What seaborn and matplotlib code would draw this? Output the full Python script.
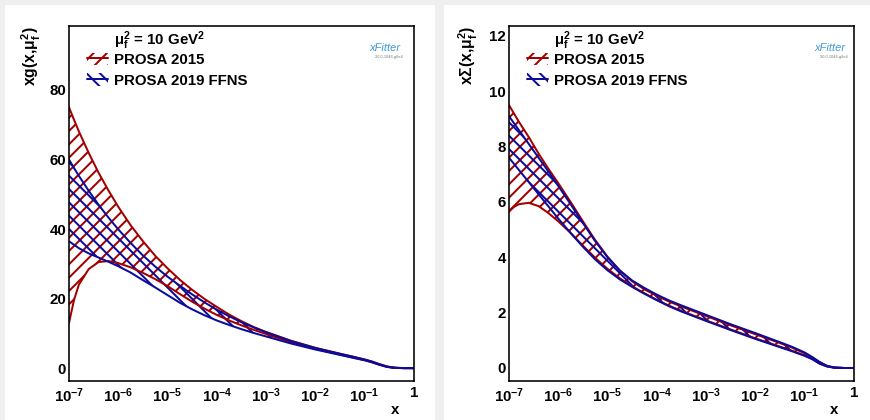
import numpy as np
import pandas as pd
import matplotlib
matplotlib.use("Agg")
import matplotlib.pyplot as plt
import seaborn as sns
from matplotlib.patches import Patch, Rectangle
from matplotlib.lines import Line2D
from matplotlib.legend_handler import HandlerTuple, HandlerLine2D
from matplotlib.ticker import LogLocator, MultipleLocator, FuncFormatter, NullFormatter

# ---------------------------------------------------------------- data
# PDF uncertainty bands at mu_f^2 = 10 GeV^2, sampled on a log10(x) grid
log10_x = [-7.0, -6.9, -6.8, -6.6, -6.4, -6.2, -6.0, -5.75, -5.5, -5.25,
           -5.0, -4.75, -4.5, -4.25, -4.0, -3.75, -3.5, -3.25, -3.0,
           -2.5, -2.0, -1.5, -1.25, -1.0, -0.85, -0.7, -0.55, -0.4, -0.2, 0.0]

# gluon xg(x, mu_f^2)
gluon_2015_hi = [75.0, 71.5, 68.1, 61.9, 56.2, 51.1, 46.4, 41.1, 36.5, 32.3,
                 28.7, 25.4, 22.5, 19.9, 17.6, 15.4, 13.5, 11.8, 10.4,
                 7.9, 5.85, 4.15, 3.35, 2.5, 1.9, 1.15, 0.5, 0.14, 0.01, 0.0]
gluon_2015_lo = [13.0, 19.5, 24.0, 28.5, 30.5, 30.8, 30.2, 29.0, 27.4, 25.6,
                 23.6, 21.3, 19.1, 17.1, 15.3, 13.7, 12.3, 11.0, 9.8,
                 7.45, 5.55, 3.9, 3.1, 2.3, 1.7, 1.0, 0.38, 0.08, 0.0, 0.0]
gluon_2019_hi = [60.0, 57.6, 55.3, 51.0, 47.0, 43.3, 39.9, 36.0, 32.4, 29.2,
                 26.3, 23.7, 21.2, 18.9, 16.8, 14.9, 13.2, 11.7, 10.3,
                 7.8, 5.75, 4.1, 3.3, 2.45, 1.85, 1.1, 0.45, 0.12, 0.01, 0.0]
gluon_2019_lo = [36.5, 35.5, 34.5, 33.0, 31.8, 30.6, 29.3, 27.5, 25.3, 23.2,
                 21.0, 18.8, 16.9, 15.2, 13.7, 12.4, 11.2, 10.1, 9.1,
                 7.1, 5.35, 3.8, 3.0, 2.25, 1.65, 0.95, 0.35, 0.07, 0.0, 0.0]

# singlet x Sigma(x, mu_f^2)
sigma_2015_hi = [9.5, 9.2, 8.9, 8.35, 7.75, 7.2, 6.68, 6.0, 5.3, 4.62,
                 4.02, 3.52, 3.13, 2.84, 2.61, 2.4, 2.22, 2.05, 1.88,
                 1.54, 1.22, 0.9, 0.73, 0.53, 0.38, 0.21, 0.075, 0.016, 0.0, 0.0]
sigma_2015_lo = [5.65, 5.82, 5.92, 5.97, 5.85, 5.6, 5.3, 4.88, 4.42, 3.98,
                 3.58, 3.24, 2.95, 2.7, 2.46, 2.25, 2.06, 1.89, 1.72,
                 1.39, 1.07, 0.77, 0.62, 0.45, 0.33, 0.16, 0.055, 0.011, 0.0, 0.0]
sigma_2019_hi = [9.1, 8.85, 8.6, 8.1, 7.6, 7.1, 6.58, 5.92, 5.24, 4.58,
                 4.0, 3.52, 3.16, 2.89, 2.65, 2.44, 2.26, 2.09, 1.92,
                 1.58, 1.26, 0.93, 0.76, 0.56, 0.4, 0.22, 0.08, 0.018, 0.0, 0.0]
sigma_2019_lo = [7.6, 7.38, 7.16, 6.72, 6.28, 5.84, 5.4, 4.88, 4.38, 3.92,
                 3.53, 3.2, 2.93, 2.68, 2.45, 2.23, 2.04, 1.87, 1.7,
                 1.37, 1.05, 0.75, 0.6, 0.44, 0.32, 0.16, 0.06, 0.012, 0.0, 0.0]

series_labels = ["PROSA 2015", "PROSA 2019 FFNS"]
scale_label = r"$μ_{f}^{2}$ = 10 GeV$^{2}$"
panel_ylabels = [r"xg(x,$μ_{f}^{2}$)", r"xΣ(x,$μ_{f}^{2}$)"]
x_ticks = [1e-7, 1e-6, 1e-5, 1e-4, 1e-3, 1e-2, 1e-1, 1.0]

RED = "#a30000"
BLUE = "#0b0b9c"

# ---------------------------------------------------------------- style
sns.set_theme(style="white")
DPI = 80
PX = 72.0 / DPI  # points per pixel
plt.rcParams.update({
    "font.family": ["Liberation Sans", "DejaVu Sans"],
    "font.weight": "bold",
    "axes.labelweight": "bold",
    "mathtext.default": "regular",
    "hatch.linewidth": 2.0 * PX,
    "axes.edgecolor": "black",
    "axes.linewidth": 1.6 * PX,
    "xtick.direction": "in",
    "ytick.direction": "in",
    "xtick.color": "black",
    "ytick.color": "black",
    "text.color": "black",
    "axes.labelcolor": "black",
})

df = pd.DataFrame({
    "x": np.power(10.0, log10_x),
    "g15_hi": gluon_2015_hi, "g15_lo": gluon_2015_lo,
    "g19_hi": gluon_2019_hi, "g19_lo": gluon_2019_lo,
    "s15_hi": sigma_2015_hi, "s15_lo": sigma_2015_lo,
    "s19_hi": sigma_2019_hi, "s19_lo": sigma_2019_lo,
})

fig = plt.figure(figsize=(870 / DPI, 420 / DPI), dpi=DPI)
fig.patch.set_facecolor("#efefef")
# white canvases behind each panel
fig.add_artist(Rectangle((5 / 870, 0), 430 / 870, 415 / 420,
                         transform=fig.transFigure, facecolor="white",
                         edgecolor="none", zorder=-10))
fig.add_artist(Rectangle((444 / 870, 0), 426 / 870, 415 / 420,
                         transform=fig.transFigure, facecolor="white",
                         edgecolor="none", zorder=-10))

ax_w = 345 / 870
ax_h = 355 / 420
ax_b = 39 / 420
axes = [fig.add_axes([69 / 870, ax_b, ax_w, ax_h]),
        fig.add_axes([509 / 870, ax_b, ax_w, ax_h])]

panels = [
    (("g15_lo", "g15_hi"), ("g19_lo", "g19_hi"), (-3.7, 98.4), 20, 5),
    (("s15_lo", "s15_hi"), ("s19_lo", "s19_hi"), (-0.47, 12.36), 2, 0.5),
]
logo_x = [0.916, 0.930]
ylabel_x = [-0.074, -0.083]
xlabel_x = [0.957, 0.954]

HATCH_15 = "//"
HATCH_19 = "\\\\"


def draw_band(ax, lo, hi, color, hatch):
    ax.fill_between(df["x"], df[lo], df[hi], facecolor="none",
                    edgecolor=color, hatch=hatch, linewidth=0)
    for col in (lo, hi):
        sns.lineplot(data=df, x="x", y=col, ax=ax, color=color,
                     linewidth=2.0 * PX, legend=False)


def log_label(v, pos):
    if np.isclose(v, 1.0):
        return "1"
    return r"$10^{%d}$" % int(round(np.log10(v)))


for i, ax in enumerate(axes):
    band15, band19, ylim, major, minor = panels[i]
    ax.set_facecolor("white")
    draw_band(ax, band15[0], band15[1], RED, HATCH_15)
    draw_band(ax, band19[0], band19[1], BLUE, HATCH_19)

    ax.set_xscale("log")
    ax.set_xlim(1e-7, 1.0)
    ax.set_ylim(*ylim)
    ax.xaxis.set_major_locator(LogLocator(base=10, numticks=20))
    ax.xaxis.set_minor_locator(LogLocator(base=10, subs=np.arange(2, 10),
                                          numticks=20))
    ax.xaxis.set_major_formatter(FuncFormatter(log_label))
    ax.xaxis.set_minor_formatter(NullFormatter())
    ax.set_xticks(x_ticks)
    ax.yaxis.set_major_locator(MultipleLocator(major))
    ax.yaxis.set_minor_locator(MultipleLocator(minor))

    ax.tick_params(axis="both", which="major", length=10 * PX,
                   width=1.2 * PX, labelsize=13.5, top=False, right=False)
    ax.tick_params(axis="both", which="minor", length=5 * PX,
                   width=1.2 * PX, top=False, right=False)
    ax.tick_params(axis="x", which="major", pad=5 * PX)
    ax.tick_params(axis="y", which="major", pad=3 * PX)
    for s in ax.spines.values():
        s.set_visible(True)
        s.set_color("black")

    ax.set_xlabel("x", fontsize=13.5, loc="right")
    ax.xaxis.set_label_coords(xlabel_x[i], -0.062)
    ax.set_ylabel(panel_ylabels[i], fontsize=14.2, loc="top")
    ax.yaxis.set_label_coords(ylabel_x[i], 1.0)

    # scale header, then the two band entries
    ax.text(45 / 345, 1 - 19.5 / 355, scale_label, transform=ax.transAxes,
            ha="left", va="baseline", fontsize=13.5)
    handles = [
        (Patch(facecolor="none", edgecolor=RED, hatch=HATCH_15, linewidth=0),
         Line2D([], [], color=RED, linewidth=2.0 * PX)),
        (Patch(facecolor="none", edgecolor=BLUE, hatch=HATCH_19, linewidth=0),
         Line2D([], [], color=BLUE, linewidth=2.0 * PX)),
    ]
    ax.legend(handles, series_labels,
              handler_map={tuple: HandlerTuple(ndivide=1, pad=0),
                           Line2D: HandlerLine2D(marker_pad=0)},
              loc="upper left", bbox_to_anchor=(18 / 345, 1 - 26.5 / 355),
              borderaxespad=0, borderpad=0, frameon=False, fontsize=13.5,
              handlelength=1.4, handleheight=0.9, handletextpad=0.4,
              labelspacing=0.42)

    ax.text(logo_x[i], 0.938, "xFitter", transform=ax.transAxes,
            ha="center", va="center", color="#3d9ad6", fontsize=10,
            fontstyle="italic", fontweight="normal")
    ax.text(logo_x[i] + 0.012, 0.912, "2.0.0-1046-g6e4", transform=ax.transAxes,
            ha="center", va="center", color="#777777", fontsize=3.5,
            fontweight="normal")

fig.savefig("out.png", dpi=DPI, facecolor=fig.get_facecolor())
